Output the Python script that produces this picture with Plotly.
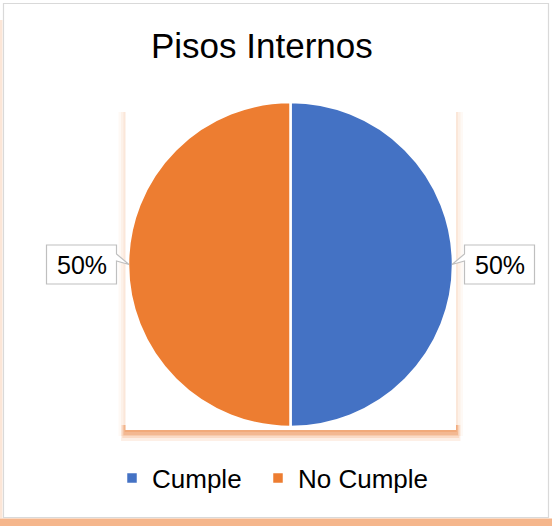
import math
import plotly.graph_objects as go

# ---- data ----
title_text = "Pisos Internos"
categories = ["Cumple", "No Cumple"]
values = [50, 50]
colors = ["#4472C4", "#ED7D31"]

W, H = 552, 526
FONT = "Liberation Sans, Arial, sans-serif"

def px(x):
    return x / W

def py(y):
    return 1 - y / H

# pie geometry (pixels)
cx, cy, r = 290.5, 264.5, 162.5

fig = go.Figure()
fig.add_trace(go.Pie(
    labels=categories,
    values=values,
    marker=dict(colors=colors, line=dict(color="white", width=2.5)),
    sort=False,
    direction="clockwise",
    rotation=0,
    textinfo="none",
    hoverinfo="label+percent",
    domain=dict(x=[px(cx - r), px(cx + r)], y=[py(cy + r), py(cy - r)]),
))

shapes = []
# outer chart area: orange bottom band and faint left edge
shapes.append(dict(type="rect", xref="paper", yref="paper", x0=0, x1=1, y0=py(526), y1=py(518.5),
                   fillcolor="rgb(245,182,140)", line=dict(width=0), layer="below"))
shapes.append(dict(type="rect", xref="paper", yref="paper", x0=0, x1=px(2.5), y0=py(518), y1=py(20),
                   fillcolor="rgba(245,182,140,0.35)", line=dict(width=0), layer="below"))
shapes.append(dict(type="rect", xref="paper", yref="paper", x0=px(3.5), x1=px(548.5), y0=py(517.5), y1=py(3.5),
                   fillcolor="white", line=dict(color="#D9D9D9", width=1.2), layer="below"))
# plot area glow (shadow): bottom band stronger, sides faint
for d, a in [(11, 0.15), (8, 0.22), (5, 0.32), (2, 0.40)]:
    shapes.append(dict(type="rect", xref="paper", yref="paper",
                       x0=px(125.5 - d * 0.4), x1=px(456 + d * 0.4),
                       y0=py(430 + d), y1=py(425),
                       fillcolor=f"rgba(240,150,90,{a})", line=dict(width=0), layer="below"))
for d, a in [(7, 0.06), (4.5, 0.08), (2, 0.10)]:
    shapes.append(dict(type="rect", xref="paper", yref="paper",
                       x0=px(125.5 - d), x1=px(456 + d),
                       y0=py(436), y1=py(112),
                       fillcolor=f"rgba(240,150,90,{a})", line=dict(width=0), layer="below"))
shapes.append(dict(type="rect", xref="paper", yref="paper", x0=px(125.5), x1=px(456), y0=py(430), y1=py(95),
                   fillcolor="white", line=dict(width=0), layer="below"))

# callout labels, placed at each slice's mid-angle
annotations = []
total = sum(values)
cum = 0
bw, bh = 70, 39
label_dist = 209
for v in values:
    mid = cum + v / 2
    cum += v
    ang = math.radians(90 - 360 * mid / total)
    bx = cx + label_dist * math.cos(ang)
    by = cy - label_dist * math.sin(ang)
    pct = f"{round(100 * v / total)}%"
    side = 1 if bx > cx else -1
    x_in = bx - side * bw / 2
    x_out = bx + side * bw / 2
    top, bot = by - bh / 2, by + bh / 2
    tip_x = cx + side * (r - 1)
    tip_y = by
    n1, n2 = by - 10.5, by - 3.5
    pts = [(x_in, top), (x_out, top), (x_out, bot), (x_in, bot), (x_in, n2), (tip_x, tip_y), (x_in, n1)]
    path = "M " + " L ".join(f"{px(x):.5f},{py(y):.5f}" for x, y in pts) + " Z"
    shapes.append(dict(type="path", xref="paper", yref="paper", path=path,
                       fillcolor="white", line=dict(color="#BFBFBF", width=1.2), layer="above"))
    annotations.append(dict(text=pct, x=px(bx), y=py(by), xref="paper", yref="paper",
                            showarrow=False, xanchor="center", yanchor="middle",
                            font=dict(family=FONT, size=25, color="#000000")))

annotations.append(dict(text=title_text, x=px(261.5), y=py(45), xref="paper", yref="paper",
                        showarrow=False, xanchor="center", yanchor="middle",
                        font=dict(family=FONT, size=35, color="#000000")))

fig.update_layout(
    width=W, height=H,
    margin=dict(l=0, r=0, t=0, b=0),
    paper_bgcolor="white",
    plot_bgcolor="white",
    shapes=shapes,
    annotations=annotations,
    showlegend=True,
    legend=dict(orientation="h", x=px(112), y=py(478), xanchor="left", yanchor="middle",
                entrywidth=101, entrywidthmode="pixels",
                font=dict(family=FONT, size=26, color="#000000"),
                bgcolor="rgba(0,0,0,0)", itemclick=False, itemdoubleclick=False),
)

post = (
    "document.body.style.margin='0px';"
    "document.querySelectorAll('.legend [clip-path]').forEach(function(e){e.removeAttribute('clip-path');});"
)
fig.write_html("out.html", config={"displayModeBar": False}, post_script=post)
